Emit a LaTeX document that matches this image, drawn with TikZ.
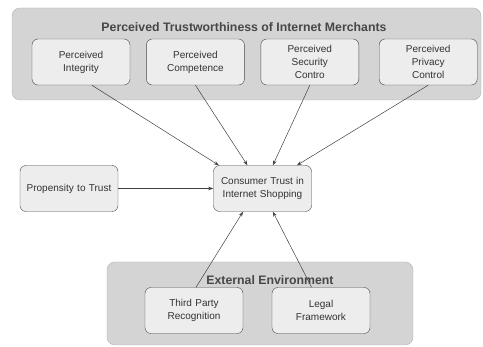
\documentclass[tikz,border=0pt]{standalone}
\usepackage{fontspec}
\setmainfont{Liberation Sans}
\usepackage{tikz}
\usetikzlibrary{positioning}
\usetikzlibrary{arrows.meta}

\begin{document}
\begin{tikzpicture}[
                            x=1pt, y=-1pt,
                            node distance=16pt,
                            font=\fontsize{10}{13}\selectfont,
                            group/.style={draw=gray!60, fill=gray!34, rounded corners=8pt, inner sep=0pt},
                            grouplabel/.style={font=\bfseries\fontsize{12.3}{14}\selectfont, text=black!72},
                            box/.style={draw=black!72, fill=gray!14, rounded corners=6pt, align=center,
                                        text width=92pt, minimum width=98pt, minimum height=46pt,
                                        inner sep=0pt, text=black!80},
                            link/.style={-{Stealth[length=5pt,width=3.5pt]}, draw=black!75, line width=0.5pt}
                            ]
                            \useasboundingbox (0,0) rectangle (483,347);

                            \node[group, minimum width=469pt, minimum height=92pt] (top)    at (246.5,54) {};
                            \node[grouplabel]                (toplabel) at (244,27)   {Perceived Trustworthiness of Internet Merchants};
                            \node[group, minimum width=306pt, minimum height=83pt] (bottom) at (260,303.5) {};
                            \node[grouplabel]                (bottomlabel) at (270,280) {External Environment};

                            \node[box]                      (pi)    at (81,62)     {Perceived\\Integrity};
                            \node[box, right=of pi]         (pc)                   {Perceived\\Competence};
                            \node[box, right=of pc]         (ps)                   {Perceived\\Security\\Contro};
                            \node[box, right=20pt of ps]    (pp)                   {Perceived\\Privacy\\Control};

                            \node[box]                      (cts)   at (262.5,188.5) {Consumer Trust in\\Internet Shopping};
                            \node[box]                      (pt)    at (69,188.5)    {Propensity to Trust};

                            \node[box]                      (tp)    at (194,310.5) {Third Party\\Recognition};
                            \node[box]                      (lf)    at (321,310.5) {Legal\\Framework};

                            \draw[link] (pi.295)  -- (cts.152);
                            \draw[link] (pc.south) -- (cts.123);
                            \draw[link] (ps.south) -- (cts.66);
                            \draw[link] (pp.south) -- (cts.34);

                            \draw[link, line width=1.1pt] (pt) -- (cts);

                            \draw[link] (tp.85)  -- (cts.230);
                            \draw[link] (lf.112) -- (cts.294);
                        \end{tikzpicture}
\end{document}
